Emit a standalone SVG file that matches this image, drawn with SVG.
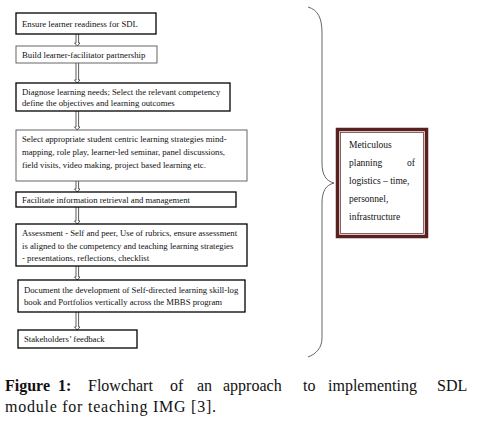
<svg xmlns="http://www.w3.org/2000/svg" width="504" height="437" viewBox="0 0 504 437">
<style>
.bx{fill:#fff;stroke:#000;stroke-width:1.3}
.bg{fill:#fff;stroke:#555;stroke-width:0.9}
.t{font-family:"Liberation Serif","DejaVu Serif",serif;font-size:8.7px;fill:#111}
.m{font-family:"Liberation Serif","DejaVu Serif",serif;font-size:9.5px;fill:#111}
.ar{fill:#fff;stroke:#333;stroke-width:0.8}
.cap{font-family:"Liberation Serif","DejaVu Serif",serif;font-size:16px;fill:#111}
</style>
<rect width="504" height="437" fill="#fff"/>
<g id="connectors">
<path class="ar" d="M76,34 V43 H74.5 L77.3,46 L80,43 H78.6 V34"/>
<path class="ar" d="M76,63 V80 H74.5 L77.3,83 L80,80 H78.6 V63"/>
<path class="ar" d="M76,111 V127 H74.5 L77.3,130 L80,127 H78.6 V111"/>
<path class="ar" d="M76,181 V189 H74.5 L77.3,192 L80,189 H78.6 V181"/>
<path class="ar" d="M76,207 V221 H74.5 L77.3,224 L80,221 H78.6 V207"/>
<path class="ar" d="M76,266 V277 H74.5 L77.3,280 L80,277 H78.6 V266"/>
<path class="ar" d="M76,312 V327 H74.5 L77.3,330 L80,327 H78.6 V312"/>
<path id="brace" d="M308,7 C318,10 322,18 322,33 V163 C322,175 326,181 334,183 C326,185 322,191 322,203 V338 C322,348 316,354 308,357" fill="none" stroke="#555" stroke-width="0.9"/>
</g>
<g id="n1"><rect class="bx" x="16" y="13" width="140" height="21"/><text class="t" x="22" y="27">Ensure learner readiness for SDL</text></g>
<g id="n2"><rect class="bg" x="16" y="46" width="141" height="17"/><text class="t" x="22" y="58">Build learner-facilitator partnership</text></g>
<g id="n3"><rect class="bx" x="16" y="83" width="214" height="28"/><text class="t" x="22" y="94.5">Diagnose learning needs; Select the relevant competency</text><text class="t" x="22" y="106">define the objectives and learning outcomes</text></g>
<g id="n4"><rect class="bg" x="16" y="130" width="231" height="51"/><text class="t" x="22" y="142">Select appropriate student centric learning strategies mind-</text><text class="t" x="22" y="155">mapping, role play, learner-led seminar, panel discussions,</text><text class="t" x="22" y="168">field visits, video making, project based learning etc.</text></g>
<g id="n5"><rect class="bx" x="16" y="192" width="220" height="15"/><text class="t" x="22" y="203">Facilitate information retrieval and management</text></g>
<g id="n6"><rect class="bx" x="16" y="224" width="231" height="42"/><text class="t" x="22" y="236">Assessment - Self and peer, Use of rubrics, ensure assessment</text><text class="t" x="22" y="248.5">is aligned to the competency and teaching learning strategies</text><text class="t" x="22" y="261">- presentations, reflections, checklist</text></g>
<g id="n7"><rect class="bx" x="18" y="280" width="227" height="32"/><text class="t" x="24" y="293">Document the development of Self-directed learning skill-log</text><text class="t" x="24" y="305">book and Portfolios vertically across the MBBS program</text></g>
<g id="n8"><rect class="bx" x="18" y="330" width="119" height="18"/><text class="t" x="24" y="342">Stakeholders’ feedback</text></g>
<g id="n9">
<rect x="337.5" y="129.5" width="89" height="107" fill="#fff" stroke="#5a1f1f" stroke-width="3.5"/>
<rect x="340.5" y="132.5" width="83" height="101" fill="none" stroke="#5a1f1f" stroke-width="0.7"/>
<text class="m" x="349" y="147.5">Meticulous</text>
<text class="m" x="349" y="165.5">planning</text><text class="m" x="415" y="165.5" text-anchor="end">of</text>
<text class="m" x="349" y="183.5">logistics – time,</text>
<text class="m" x="349" y="201.5">personnel,</text>
<text class="m" x="349" y="219.5">infrastructure</text>
</g>
<g id="caption">
<text class="cap" y="391"><tspan x="5" font-weight="bold">Figure</tspan><tspan x="58" font-weight="bold">1:</tspan><tspan x="88">Flowchart</tspan><tspan x="170">of</tspan><tspan x="197">an</tspan><tspan x="223">approach</tspan><tspan x="303">to</tspan><tspan x="328">implementing</tspan><tspan x="437">SDL</tspan></text>
<text class="cap" x="5" y="412" textLength="211" lengthAdjust="spacing">module for teaching IMG [3].</text>
</g>
</svg>
